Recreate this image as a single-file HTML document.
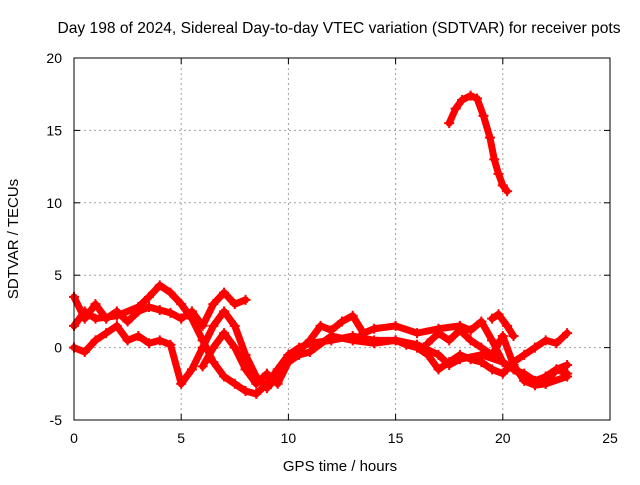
<!DOCTYPE html>
<html><head><meta charset="utf-8"><style>
body{margin:0;background:#fff}
svg text{font-family:"Liberation Sans",sans-serif;font-size:14px;fill:#000}
</style></head><body>
<svg id="chart" width="640" height="480">
<text x="339" y="33" text-anchor="middle" style="font-size:15.6px">Day 198 of 2024, Sidereal Day-to-day VTEC variation (SDTVAR) for receiver pots</text>
<g id="grid"></g>
<g id="ticks"></g>
<g id="series"></g>
<rect x="74" y="58" width="536" height="362" fill="none" stroke="#000" stroke-width="1"/>
<text x="340" y="471" text-anchor="middle" style="font-size:15px">GPS time / hours</text>
<text transform="translate(18,239) rotate(-90)" text-anchor="middle" style="font-size:15px">SDTVAR / TECUs</text>
</svg>
<script>
const xTicks=[0,5,10,15,20,25];
const yTicks=[-5,0,5,10,15,20];
const track1=[[0,1.5],[0.5,2.5],[1,2.0],[2,2.2],[3,2.8],[3.5,3.5],[4,4.3],[4.5,3.8],[5,3.0],[5.5,2.0],[6,0.5],[6.5,-1],[7,-2],[7.5,-2.5],[8,-3],[8.5,-3.2],[9,-2.5],[9.5,-1.5],[10,-0.5],[10.5,0],[11,0.3],[12,0.5],[13,0.8],[14,0.5],[15,0.5],[16,0.2],[17,-0.5],[17.5,-1.2],[18,-0.8],[19,-0.5],[20,-1],[21,-2],[22,-2.5],[23,-2]];
const track2=[[0,0],[0.5,-0.3],[1,0.5],[1.5,1.0],[2,1.5],[2.5,0.5],[3,0.8],[3.5,0.3],[4,0.5],[4.5,0.2],[5,-2.5],[5.5,-1.5],[6,0],[6.5,1.5],[7,2.5],[7.5,1.5],[8,-0.5],[8.5,-2],[9,-2.8],[9.5,-2.0],[10,-1.0],[10.5,-0.2],[11,0.5],[11.5,1.5],[12,1.2],[12.5,1.8],[13,2.2],[13.5,1.0],[14,1.3],[15,1.5],[16,1.0],[17,1.3],[18,1.5],[18.5,1.2],[19,1.8],[19.5,0.5],[20,-1.0],[20.5,-1.5],[21,-1.8],[21.5,-2.3],[22,-2.0],[22.5,-1.5],[23,-1.8]];
const track3=[[0,3.5],[0.5,2.0],[1,3.0],[1.5,2.0],[2,2.5],[2.5,1.8],[3,2.5],[3.5,2.8],[4,2.6],[4.5,2.4],[5,2.0],[5.5,2.5],[6,1.5],[6.5,3.0],[7,3.8],[7.5,3.0],[8,3.3]];
const track4=[[6,-1.3],[6.5,0],[7,1],[7.5,0],[8,-1.5],[8.5,-2.5],[9,-1.8],[9.5,-2.5],[10,-1.0],[10.5,-0.5],[11,-0.3],[12,0.8],[13,0.5],[14,0.3],[15,0.5],[15.5,0.2],[16,0],[16.5,-0.5],[17,-1.5],[17.5,-1.0],[18,-0.5],[18.5,-0.8],[19,-1.0],[19.5,-1.5],[20,-1.8],[20.5,-1.0],[21,-0.5],[21.5,0],[22,0.5],[22.5,0.3],[23,1.0]];
const track5=[[16.5,0.3],[17,1.0],[17.5,0.5],[18,1.2],[18.5,0.5],[19,0],[19.5,-0.5],[20,0.8],[20.5,-1.2],[21,-2.3],[21.5,-2.6],[22,-2.5],[22.5,-1.5],[23,-1.2]];
const track6=[[19.5,2.0],[19.8,2.3],[20.2,1.5],[20.5,0.8]];
const trackHigh=[[17.5,15.5],[17.8,16.5],[18.1,17.1],[18.5,17.4],[18.8,17.2],[19.1,16.0],[19.4,14.5],[19.6,13.0],[19.8,12.0],[20.0,11.2],[20.2,10.8]];
const tracks=[track1,track2,track3,track4,track5,track6,trackHigh];

const NS='http://www.w3.org/2000/svg';
const X0=74,X1=610,Y0=420,Y1=58;
function sx(t){return X0+(t-0)/(25-0)*(X1-X0);}
function sy(v){return Y0-(v+5)/(25)*(Y0-Y1);}
function mk(tag,attrs,parent){const e=document.createElementNS(NS,tag);for(const k in attrs)e.setAttribute(k,attrs[k]);parent.appendChild(e);return e;}
const grid=document.getElementById('grid'),ticks=document.getElementById('ticks'),ser=document.getElementById('series');
xTicks.forEach(t=>{
  const x=sx(t);
  if(t>0&&t<25){const g=mk('line',{x1:x,x2:x,y1:Y1,y2:Y0,stroke:'#a0a0a0','stroke-dasharray':'2,3'},grid);
  
  }
  mk('line',{x1:x,x2:x,y1:Y0,y2:Y0-6,stroke:'#000'},ticks);
  mk('line',{x1:x,x2:x,y1:Y1,y2:Y1+6,stroke:'#000'},ticks);
  const l=mk('text',{x:x,y:Y0+23,'text-anchor':'middle'},ticks);l.textContent=t;
  
  
});
yTicks.forEach(v=>{
  const y=sy(v);
  if(v>-5&&v<20){const g=mk('line',{x1:X0,x2:X1,y1:y,y2:y,stroke:'#a0a0a0','stroke-dasharray':'2,3'},grid);
  
  }
  mk('line',{x1:X0,x2:X0+6,y1:y,y2:y,stroke:'#000'},ticks);
  mk('line',{x1:X1,x2:X1-6,y1:y,y2:y,stroke:'#000'},ticks);
  const l=mk('text',{x:X0-12,y:y+5,'text-anchor':'end'},ticks);l.textContent=v;
  
  
});
tracks.forEach(tr=>{
  const p=mk('polyline',{points:tr.map(d=>sx(d[0])+','+sy(d[1])).join(' '),fill:'none',stroke:'#ff0000','stroke-width':7,'stroke-linejoin':'round','stroke-linecap':'round'},ser);
  
  
  tr.forEach(d=>{
    const x=sx(d[0]),y=sy(d[1]);
    const m=mk('path',{d:`M${x-5},${y}H${x+5}M${x},${y-5}V${y+5}`,stroke:'#ff0000','stroke-width':2},ser);
    
    
  });
});
</script>
</body></html>
